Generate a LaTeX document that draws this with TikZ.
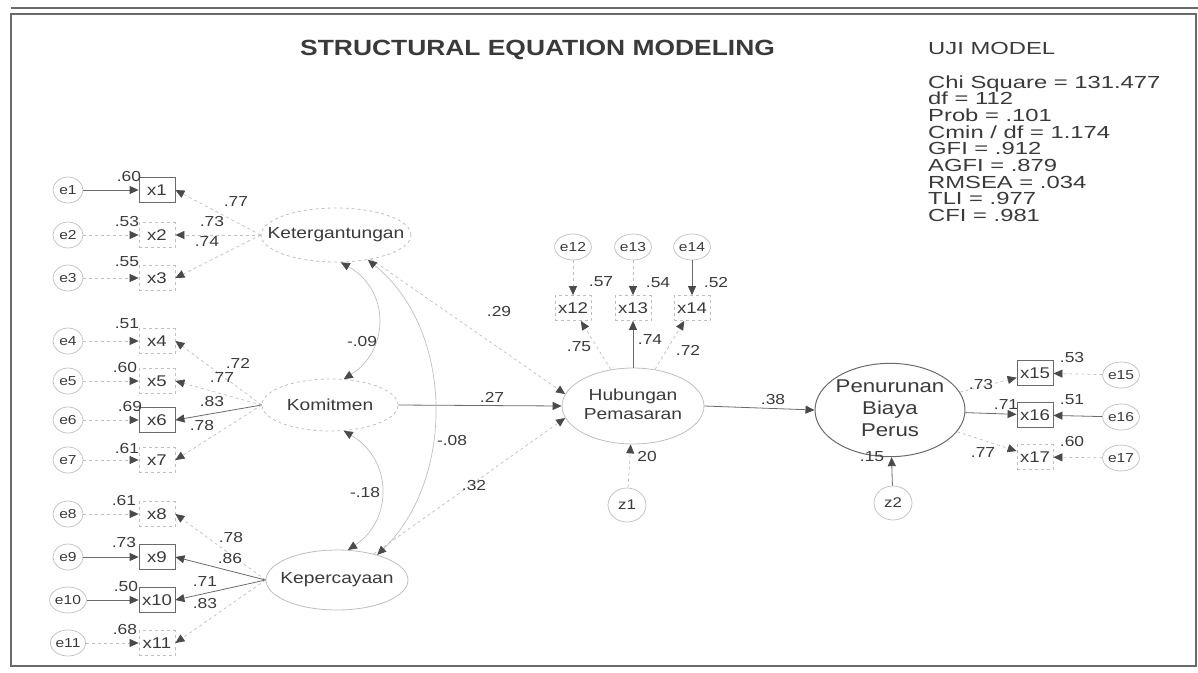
\documentclass[tikz,border=0pt]{standalone}
\usepackage{fontspec}
\setmainfont[FakeStretch=1.2]{Liberation Sans}
\newfontfamily\statfont[FakeStretch=1.36]{Liberation Sans}
\usetikzlibrary{arrows.meta,shapes.geometric}
\definecolor{ink}{HTML}{3A3A3A}
\definecolor{lineD}{HTML}{6A6A6A}
\definecolor{lineF}{HTML}{BEBEBE}
\definecolor{tipC}{HTML}{4A4A4A}
\tikzset{
  every node/.style={text=ink},
  obs/.style={draw=lineD, line width=0.8pt, rectangle, minimum width=36pt, minimum height=25pt, inner sep=0pt, font=\fontsize{15.5}{18}\selectfont},
  obsf/.style={obs, draw=lineF, dashed},
  err/.style={draw=lineF, line width=0.7pt, ellipse, minimum width=30pt, minimum height=26pt, inner sep=0pt, font=\fontsize{13}{15}\selectfont},
  bigerr/.style={err, minimum width=38pt, minimum height=34pt, font=\fontsize{14}{16}\selectfont},
  lat/.style={draw=lineD, line width=0.8pt, ellipse, inner sep=0pt, font=\fontsize{16}{19}\selectfont},
  coef/.style={font=\fontsize{14.5}{16}\selectfont, inner sep=0pt},
  arr/.style={-{Triangle[length=9pt,width=8pt,color=tipC]}},
  pth/.style={arr, draw=lineD, line width=0.8pt},
  pthf/.style={arr, draw=lineF, dashed, line width=0.7pt},
  cov/.style={{Triangle[length=9pt,width=8pt,color=tipC]}-{Triangle[length=9pt,width=8pt,color=tipC]}, draw=lineF, line width=0.7pt},
  stat/.style={anchor=base west, inner sep=0pt, font=\statfont\fontsize{17.5}{17}\selectfont},
}
\begin{document}
\begin{tikzpicture}[x=1pt,y=-1pt]
\useasboundingbox (0,0) rectangle (1198,672);
% frame
\draw[lineD, line width=1.4pt] (11,14) rectangle (1196,666);
\draw[lineD, line width=1.4pt] (11,8) -- (1198,8);
% titles
\node[anchor=base west, inner sep=0pt, font=\bfseries\fontsize{22}{26}\selectfont] (title) at (300,55) {STRUCTURAL EQUATION MODELING};
\node[stat] (uji) at (928,54) {UJI MODEL};
\node[stat] (s1) at (928,88) {Chi Square = 131.477};
\node[stat] (s2) at (928,104.5) {df = 112};
\node[stat] (s3) at (928,121) {Prob = .101};
\node[stat] (s4) at (928,138) {Cmin / df = 1.174};
\node[stat] (s5) at (928,154.5) {GFI = .912};
\node[stat] (s6) at (928,171) {AGFI = .879};
\node[stat] (s7) at (928,188) {RMSEA = .034};
\node[stat] (s8) at (928,204.5) {TLI = .977};
\node[stat] (s9) at (928,221) {CFI = .981};
% latent variables
\node[lat, draw=lineF, dashed, minimum width=150pt, minimum height=54pt] (K) at (336,235) {\makebox[0pt]{Ketergantungan}};
\node[lat, draw=lineF, dashed, minimum width=136pt, minimum height=52pt] (M) at (330,405) {\makebox[0pt]{Komitmen}};
\node[lat, draw=lineF, minimum width=142pt, minimum height=60pt] (C) at (337,580) {\makebox[0pt]{Kepercayaan}};
\node[lat, draw=lineF, minimum width=142pt, minimum height=76pt] (H) at (633,406) {\makebox[0pt]{\begin{tabular}{@{}c@{}}Hubungan\\Pemasaran\end{tabular}}};
\node[lat, draw=lineD, line width=1pt, minimum width=150pt, minimum height=66pt, font=\fontsize{18.5}{22}\selectfont] (P) at (890,410) {\makebox[0pt]{\raisebox{-4pt}{\begin{tabular}{@{}c@{}}Penurunan\\Biaya\\Perus\end{tabular}}}};
% left indicators
\node[err] (e1) at (68,190) {e1};   \node[obs]  (x1) at (157,190) {x1};
\node[err] (e2) at (68,235) {e2};   \node[obsf] (x2) at (157,235) {x2};
\node[err] (e3) at (68,278) {e3};   \node[obsf] (x3) at (157,278) {x3};
\node[err] (e4) at (68,341) {e4};   \node[obsf] (x4) at (157,341) {x4};
\node[err] (e5) at (68,381) {e5};   \node[obsf] (x5) at (157,381) {x5};
\node[err] (e6) at (68,420) {e6};   \node[obs]  (x6) at (157,420) {x6};
\node[err] (e7) at (68,460) {e7};   \node[obsf] (x7) at (157,460) {x7};
\node[err] (e8) at (68,514) {e8};   \node[obsf] (x8) at (157,514) {x8};
\node[err] (e9) at (68,557) {e9};   \node[obs]  (x9) at (157,557) {x9};
\node[err] (e10) at (68,600) {e10}; \node[obs]  (x10) at (157,600) {x10};
\node[err] (e11) at (68,643) {e11}; \node[obsf] (x11) at (157,643) {x11};
% top indicators
\node[err] (e12) at (573,247) {e12}; \node[obsf] (x12) at (573,308) {x12};
\node[err] (e13) at (633,247) {e13}; \node[obsf] (x13) at (633,308) {x13};
\node[err] (e14) at (692,247) {e14}; \node[obsf] (x14) at (692,308) {x14};
% right indicators
\node[obs]  (x15) at (1035,373) {x15}; \node[err] (e15) at (1121,375) {e15};
\node[obs]  (x16) at (1035,415) {x16}; \node[err] (e16) at (1121,417) {e16};
\node[obsf] (x17) at (1035,457) {x17}; \node[err] (e17) at (1121,458) {e17};
% disturbances
\node[bigerr] (z1) at (627,505) {z1};
\node[bigerr] (z2) at (893,503) {z2};
% error arrows
\draw[pth]  (e1) -- (x1);
\draw[pthf] (e2) -- (x2);
\draw[pthf] (e3) -- (x3);
\draw[pthf] (e4) -- (x4);
\draw[pthf] (e5) -- (x5);
\draw[pthf] (e6) -- (x6);
\draw[pthf] (e7) -- (x7);
\draw[pthf] (e8) -- (x8);
\draw[pth]  (e9) -- (x9);
\draw[pth]  (e10) -- (x10);
\draw[pthf] (e11) -- (x11);
\draw[pthf] (e12) -- (x12);
\draw[pthf] (e13) -- (x13);
\draw[pth]  (e14) -- (x14);
\draw[pthf] (e15) -- (x15);
\draw[pth]  (e16) -- (x16);
\draw[pthf] (e17) -- (x17);
% loadings
\draw[pthf] (K.west) -- (x1.east);
\draw[pthf] (K.west) -- (x2.east);
\draw[pthf] (K.west) -- (x3.east);
\draw[pthf] (M.west) -- (x4.east);
\draw[pthf] (M.west) -- (x5.east);
\draw[pth]  (M.west) -- (x6.east);
\draw[pthf] (M.west) -- (x7.east);
\draw[pthf] (C.west) -- (x8.east);
\draw[pth]  (C.west) -- (x9.east);
\draw[pth]  (C.west) -- (x10.east);
\draw[pthf] (C.west) -- (x11.east);
\draw[pthf] (H) -- (x12);
\draw[pth]  (H) -- (x13);
\draw[pthf] (H) -- (x14);
\draw[pthf] (P) -- (x15);
\draw[pth]  (P) -- (x16);
\draw[pthf] (P) -- (x17);
% structural paths
\draw[pthf] (K) -- (H.170);
\draw[pth]  (M.east) -- (H.west);
\draw[pthf] (C) -- (H.190);
\draw[pth]  (H.east) -- (P.west);
\draw[pthf] (z1) -- (H);
\draw[pth]  (z2) -- (P);
% covariances
\draw[cov] (K.-80) .. controls (390,290) and (390,350) .. (M.62);
\draw[cov] (K.-38) .. controls (455,330) and (455,480) .. (C.32);
\draw[cov] (M.-62) .. controls (393,460) and (393,520) .. (C.70);
% squared multiple correlations
\node[coef] (r1) at (129,177) {.60};
\node[coef] (r2) at (127,222) {.53};
\node[coef] (r3) at (127,262) {.55};
\node[coef] (r4) at (127,324) {.51};
\node[coef] (r5) at (125,368) {.60};
\node[coef] (r6) at (130,407) {.69};
\node[coef] (r7) at (127,448) {.61};
\node[coef] (r8) at (124,500) {.61};
\node[coef] (r9) at (124,542) {.73};
\node[coef] (r10) at (126,586) {.50};
\node[coef] (r11) at (125,629) {.68};
\node[coef] (r12) at (601,282) {.57};
\node[coef] (r13) at (658,283) {.54};
\node[coef] (r14) at (716,283) {.52};
\node[coef] (r15) at (1072,358) {.53};
\node[coef] (r16) at (1072,400) {.51};
\node[coef] (r17) at (1072,442) {.60};
% loading labels
\node[coef] (lk1) at (236,202) {.77};
\node[coef] (lk2) at (212,222) {.73};
\node[coef] (lk3) at (207,242) {.74};
\node[coef] (lm1) at (238,363) {.72};
\node[coef] (lm2) at (222,378) {.77};
\node[coef] (lm3) at (212,402) {.83};
\node[coef] (lm4) at (202,425) {.78};
\node[coef] (lc1) at (231,537) {.78};
\node[coef] (lc2) at (230,558) {.86};
\node[coef] (lc3) at (205,582) {.71};
\node[coef] (lc4) at (205,603) {.83};
\node[coef] (lh1) at (579,347) {.75};
\node[coef] (lh2) at (650,340) {.74};
\node[coef] (lh3) at (688,350) {.72};
\node[coef] (lp1) at (981,385) {.73};
\node[coef] (lp2) at (1006,405) {.71};
\node[coef] (lp3) at (983,453) {.77};
% path and covariance labels
\node[coef] (b1) at (499,312) {.29};
\node[coef] (b2) at (492,397) {.27};
\node[coef] (b3) at (474,485) {.32};
\node[coef] (b4) at (773,400) {.38};
\node[coef] (bz1) at (647,457) {20};
\node[coef] (bz2) at (872,457) {.15};
\node[coef] (c1) at (362,342) {-.09};
\node[coef] (c2) at (365,492) {-.18};
\node[coef] (c3) at (452,440) {-.08};
\end{tikzpicture}
\end{document}
